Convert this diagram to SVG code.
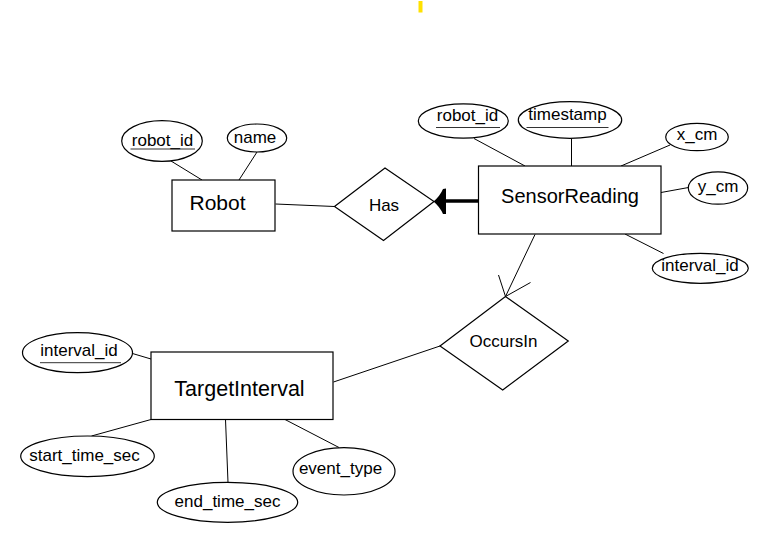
<svg xmlns="http://www.w3.org/2000/svg" width="767" height="540" viewBox="0 0 767 540">
<style>
  .shape { fill: #fff; stroke: #000; stroke-width: 1.2; }
  .conn { stroke: #000; stroke-width: 1; fill: none; }
  .ent { font-family: "Liberation Sans", Arial, sans-serif; font-size: 20px; fill: #000; text-anchor: middle; }
  .attr { font-family: "Liberation Sans", Arial, sans-serif; font-size: 17px; fill: #000; text-anchor: middle; }
  .ul { stroke: #333; stroke-width: 1; }
</style>
<rect width="767" height="540" fill="#fff"/>
<rect x="418.5" y="1" width="4" height="11.5" fill="#FFE100"/>

<g id="connectors">
  <line class="conn" x1="171" y1="161" x2="202" y2="180"/>
  <line class="conn" x1="257" y1="152" x2="239" y2="180"/>
  <line class="conn" x1="275.5" y1="204" x2="334.5" y2="206.5"/>
  <line x1="445" y1="201" x2="479" y2="201" stroke="#000" stroke-width="3.5"/>
  <path d="M433.5,201.5 Q440,196 443,189 L446,188.5 L446,214 L443,214 Q440,207 433.5,201.5 Z" fill="#000"/>
  <line class="conn" x1="474" y1="138.5" x2="525" y2="166"/>
  <line class="conn" x1="571.5" y1="138.5" x2="571.5" y2="166"/>
  <line class="conn" x1="670" y1="145" x2="621" y2="166"/>
  <line class="conn" x1="661" y1="192.5" x2="688.5" y2="187.5"/>
  <line class="conn" x1="625" y1="234" x2="663.5" y2="253.5"/>
  <line class="conn" x1="535" y1="234.5" x2="505.5" y2="296.5"/>
  <line class="conn" x1="505.5" y1="296.5" x2="498.5" y2="275"/>
  <line class="conn" x1="505.5" y1="296.5" x2="530.5" y2="282.5"/>
  <line class="conn" x1="333.5" y1="382" x2="440" y2="346"/>
  <line class="conn" x1="132.5" y1="353.5" x2="151" y2="359"/>
  <line class="conn" x1="91.5" y1="436" x2="151" y2="419.5"/>
  <line class="conn" x1="225.5" y1="419.5" x2="228" y2="482.5"/>
  <line class="conn" x1="285" y1="419.5" x2="339" y2="447.5"/>
</g>

<g id="robot">
  <rect class="shape" x="172" y="180" width="103" height="51"/>
  <text class="ent" x="217.5" y="210" style="font-size:21px">Robot</text>
</g>
<g id="robot-robot_id">
  <ellipse class="shape" cx="162" cy="141" rx="40.3" ry="20.3"/>
  <text class="attr" x="162.5" y="145.5">robot_id</text>
  <line class="ul" x1="130.5" y1="149" x2="195" y2="149"/>
</g>
<g id="robot-name">
  <ellipse class="shape" cx="257" cy="138" rx="29.7" ry="14"/>
  <text class="attr" x="255" y="143">name</text>
</g>

<g id="has">
  <polygon class="shape" points="334.5,206.5 385,168 434,201.5 383.5,240.5"/>
  <text class="attr" x="384" y="211">Has</text>
</g>

<g id="sensorreading">
  <rect class="shape" x="478.5" y="166" width="182.5" height="68"/>
  <text class="ent" x="570" y="203">SensorReading</text>
</g>
<g id="sr-robot_id">
  <ellipse class="shape" cx="463.3" cy="121" rx="45" ry="17.2"/>
  <text class="attr" x="467.5" y="120.5">robot_id</text>
  <line class="ul" x1="436" y1="127.5" x2="500" y2="127.5"/>
</g>
<g id="sr-timestamp">
  <ellipse class="shape" cx="570" cy="120" rx="51.7" ry="18.3"/>
  <text class="attr" x="567.5" y="120">timestamp</text>
  <line class="ul" x1="526.5" y1="127.5" x2="608.5" y2="127.5"/>
</g>
<g id="sr-x_cm">
  <ellipse class="shape" cx="697" cy="137" rx="31.3" ry="13.7"/>
  <text class="attr" x="697" y="140">x_cm</text>
</g>
<g id="sr-y_cm">
  <ellipse class="shape" cx="718" cy="188" rx="29.7" ry="16.2"/>
  <text class="attr" x="718" y="191.5">y_cm</text>
</g>
<g id="sr-interval_id">
  <ellipse class="shape" cx="700.3" cy="268.3" rx="48" ry="15"/>
  <text class="attr" x="700" y="270.5">interval_id</text>
</g>

<g id="occursin">
  <polygon class="shape" points="440,346 505.5,296.5 568.3,341 502.7,390"/>
  <text class="attr" x="503.5" y="346.5">OccursIn</text>
</g>

<g id="targetinterval">
  <rect class="shape" x="151" y="352" width="182" height="67.5"/>
  <text class="ent" x="239.5" y="396" style="font-size:21.5px">TargetInterval</text>
</g>
<g id="ti-interval_id">
  <ellipse class="shape" cx="77.5" cy="352.7" rx="55" ry="20"/>
  <text class="attr" x="79" y="356">interval_id</text>
  <line class="ul" x1="40" y1="362.7" x2="121" y2="362.7"/>
</g>
<g id="ti-start_time_sec">
  <ellipse class="shape" cx="87.5" cy="456.3" rx="66.8" ry="20.3"/>
  <text class="attr" x="84.5" y="460.5">start_time_sec</text>
</g>
<g id="ti-end_time_sec">
  <ellipse class="shape" cx="227.5" cy="502.3" rx="70.2" ry="20"/>
  <text class="attr" x="227.5" y="506.5">end_time_sec</text>
</g>
<g id="ti-event_type">
  <ellipse class="shape" cx="344" cy="471.3" rx="51" ry="23.7"/>
  <text class="attr" x="340.5" y="473.5">event_type</text>
</g>
</svg>
